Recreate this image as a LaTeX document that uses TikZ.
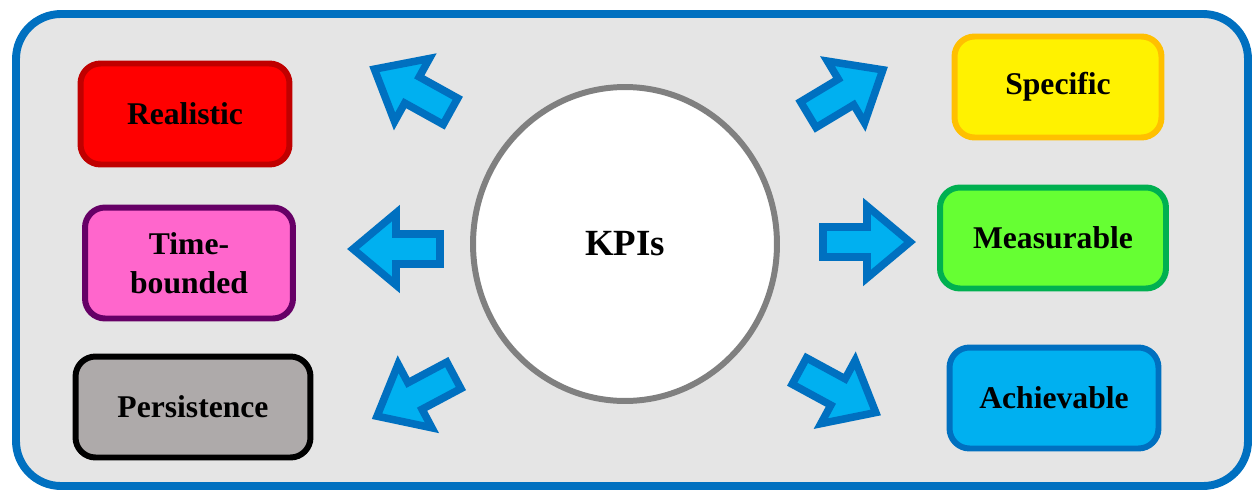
\documentclass[tikz,border=0pt]{standalone}
\usepackage{fontspec}
\setmainfont{Liberation Serif}
\usepackage{xcolor}
\usetikzlibrary{shapes.geometric}

\definecolor{frameblue}{HTML}{0070C0}
\definecolor{arrowfill}{HTML}{00B0F0}
\definecolor{panelgray}{HTML}{E5E5E5}

\begin{document}
\begin{tikzpicture}[
    x=0.02cm, y=-0.02cm,
    box/.style={rectangle, rounded corners=0.4cm, line width=3.4pt,
                align=center, font=\fontsize{18}{22.5}\selectfont\bfseries,
                minimum height=2.02cm},
    blockarr/.style={draw=frameblue, fill=arrowfill, line width=4.3pt, line join=miter}
  ]
  \useasboundingbox (0,0) rectangle (1257,494);
  % panel
  \draw[frameblue, fill=panelgray, line width=4.5pt, rounded corners=0.9cm]
    (16,14) rectangle (1248,486);

  % centre
  \node[ellipse, draw=gray, fill=white, line width=3.4pt,
        minimum width=6.08cm, minimum height=6.28cm,
        font=\fontsize{21}{25}\selectfont\bfseries] (kpi) at (625,244) {KPIs};

  % left column
  \node[box, draw={rgb,255:red,192;green,0;blue,0}, fill=red, minimum width=4.18cm] (real) at (185,114) {Realistic};
  \node[box, draw={rgb,255:red,102;green,0;blue,102}, fill={rgb,255:red,255;green,102;blue,204},
        minimum width=4.16cm, minimum height=2.22cm] (time) at (189,263) {Time-\\bounded};
  \node[box, draw=black, fill={rgb,255:red,174;green,170;blue,170},
        minimum width=4.70cm] (pers) at (193,407) {Persistence};

  % right column
  \node[box, draw={rgb,255:red,255;green,192;blue,0}, fill=yellow,
        minimum width=4.14cm] (spec) at (1058,87) {Specific};
  \node[box, draw={rgb,255:red,0;green,176;blue,80}, fill={rgb,255:red,102;green,255;blue,51},
        minimum width=4.52cm] (meas) at (1053,238) {Measurable};
  \node[box, draw=frameblue, fill=arrowfill, minimum width=4.18cm] (achv) at (1054,398) {Achievable};

  % block arrows
  \foreach \cx/\cy/\ang in {412/90/151, 396/249/180, 415/396/-152,
                            846/92/31, 867/242/0, 838/392/-28.5} {
    \begin{scope}[shift={(\cx,\cy)}, rotate=\ang]
      \draw[blockarr] (-44,-15) -- (0,-15) -- (0,-36) -- (43,0)
                      -- (0,36) -- (0,15) -- (-44,15) -- cycle;
    \end{scope}
  }
\end{tikzpicture}
\end{document}
